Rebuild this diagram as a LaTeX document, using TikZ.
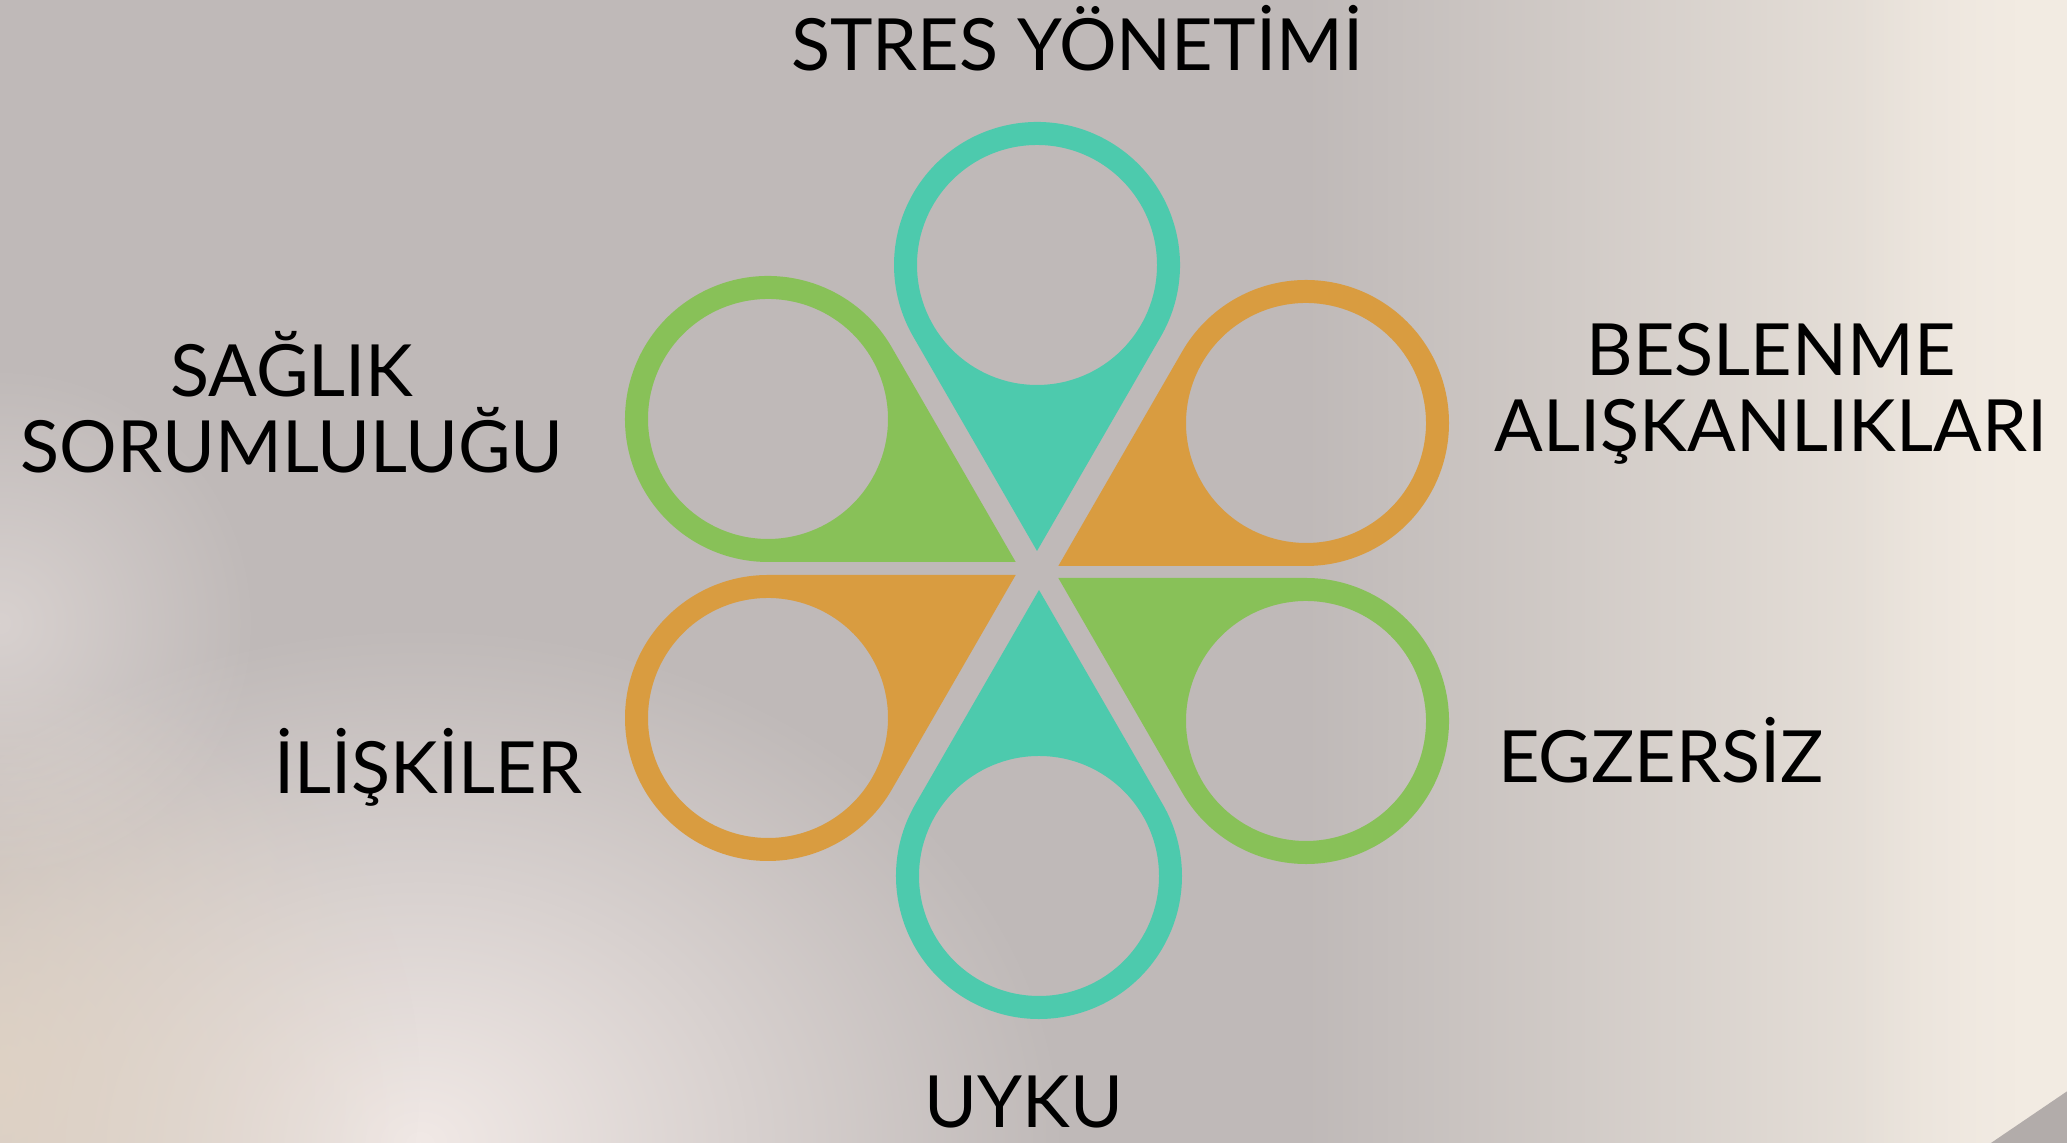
\documentclass[tikz,border=0pt]{standalone}
\usepackage{fontspec}
\setmainfont{Lato}
\usetikzlibrary{fadings}
\definecolor{bgbase}{RGB}{191,185,184}
\definecolor{cream}{RGB}{243,236,227}
\definecolor{pinkw}{RGB}{241,233,230}
\definecolor{beige}{RGB}{226,212,196}
\definecolor{corner}{RGB}{178,172,170}
\definecolor{teal}{RGB}{77,202,173}
\definecolor{lgreen}{RGB}{136,193,88}
\definecolor{ochre}{RGB}{217,156,64}
\tikzfading[name=fuzzy, inner color=transparent!0, outer color=transparent!100]
\tikzfading[name=toright, left color=transparent!100, right color=transparent!0]
\newcommand{\pinshape}[4]{% cx, cy(image), rotate, colour
  \begin{scope}[shift={(#1,1143-#2)}, rotate=#3]
    \path[fill=#4, even odd rule] (0,-286) -- (-30:143) arc[start angle=-30, end angle=210, radius=143] -- cycle
      (0,0) circle[radius=120];
  \end{scope}}
\tikzset{lbl/.style={font=\fontsize{36}{38}\selectfont, text=black, align=center, inner sep=0pt}}
\begin{document}
\begin{tikzpicture}[x=0.5pt,y=0.5pt]
\useasboundingbox (0,0) rectangle (2067,1143);
\fill[bgbase] (-2,-2) rectangle (2069,1145);
% background light areas
\fill[cream, path fading=toright] (1300,-2) rectangle (2069,1145);
\fill[cream, path fading=toright] (1850,-2) rectangle (2069,1145);
\fill[pinkw, path fading=fuzzy] (420,0) ellipse[x radius=650, y radius=520];
\fill[beige, path fading=fuzzy, opacity=0.8] (0,60) ellipse[x radius=420, y radius=420];
\fill[pinkw, path fading=fuzzy, opacity=0.5] (0,520) ellipse[x radius=260, y radius=260];
\fill[corner] (2069,53) -- (2069,-2) -- (1988,-2) -- cycle;
% pins
\pinshape{1037}{265}{0}{teal}
\pinshape{1039}{876}{180}{teal}
\pinshape{768}{419}{60}{lgreen}
\pinshape{1306}{721}{-120}{lgreen}
\pinshape{1306}{423}{-60}{ochre}
\pinshape{768}{718}{120}{ochre}
% labels
\node[lbl, anchor=base] (stres) at (1077,1143-71) {STRES YÖNETİMİ};
\node[lbl] (saglik) at (292,1143-402) {SAĞLIK\\SORUMLULUĞU};
\node[lbl] (besl) at (1771,1143-394) {BESLENME\\ALIŞKANLIKLARI};
\node[lbl, anchor=base] (egz) at (1661,1143-783) {EGZERSİZ};
\node[lbl, anchor=base] (ilis) at (428,1143-794) {İLİŞKİLER};
\node[lbl, anchor=base] (uyku) at (1024,1143-1128) {UYKU};
\end{tikzpicture}
\end{document}
